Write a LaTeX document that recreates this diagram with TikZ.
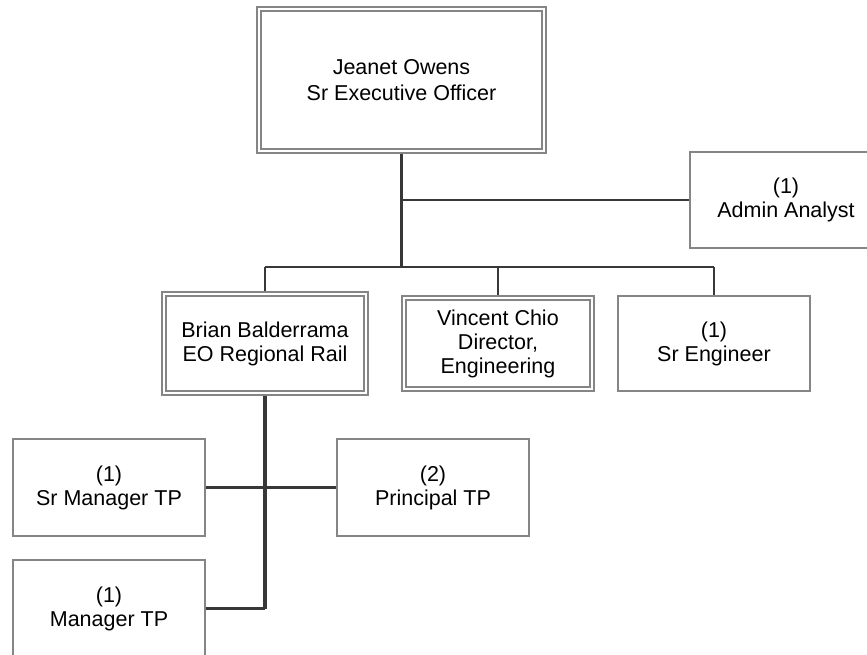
\documentclass[tikz,border=0pt]{standalone}
\usepackage{fontspec}
\setmainfont{Liberation Sans}
\usetikzlibrary{backgrounds}
\definecolor{boxgray}{HTML}{858585}
\definecolor{linegray}{HTML}{383838}
\begin{document}
\begin{tikzpicture}[x=1pt,y=-1pt,
  box/.style={draw=boxgray, line width=1.3pt, fill=white, inner sep=0pt,
    align=center, font=\fontsize{21.5}{24}\selectfont,
    minimum width=192pt, minimum height=97pt},
  dbox/.style={box, double=white, double distance=2.7pt},
  trunk/.style={draw=linegray, line width=3.2pt},
  branch/.style={draw=linegray, line width=2.4pt}]
\useasboundingbox (0,0) rectangle (867,654);
\clip (0,0) rectangle (867,654);

\node[dbox, minimum width=285pt, minimum height=142pt,
  font=\fontsize{21.5}{26}\selectfont] (top) at (401.5,80) {Jeanet Owens\\Sr Executive Officer};
\node[box, minimum height=96pt] (admin) at (786,200) {(1)\\Admin Analyst};
\node[dbox, minimum width=202pt, minimum height=99pt] (brian) at (265,343.5) {Brian Balderrama\\EO Regional Rail};
\node[dbox, minimum width=188pt, minimum height=91pt] (vincent) at (498,343.5) {Vincent Chio\\Director,\\Engineering};
\node[box, minimum height=95pt] (sreng) at (714,343.5) {(1)\\Sr Engineer};
\node[box] (srmgr) at (109,487.5) {(1)\\Sr Manager TP};
\node[box] (principal) at (433,487.5) {(2)\\Principal TP};
\node[box] (mgr) at (109,608.5) {(1)\\Manager TP};

\coordinate (hub) at (401.5,267);
\begin{pgfonlayer}{background}
\draw[trunk] (top.south) -- (hub);
\draw[branch] (top.south |- admin.west) -- (admin.west);
\draw[branch] (brian.north |- hub) -- (sreng.north |- hub);
\draw[branch] (brian.north |- hub) -- (brian.north);
\draw[branch] (vincent.north |- hub) -- (vincent.north);
\draw[branch] (sreng.north |- hub) -- (sreng.north);
\draw[trunk] (brian.south) -- (brian.south |- mgr.east);
\draw[branch] (srmgr.east) -- (principal.west);
\draw[branch] (mgr.east) -- (brian.south |- mgr.east);
\end{pgfonlayer}
\end{tikzpicture}
\end{document}
